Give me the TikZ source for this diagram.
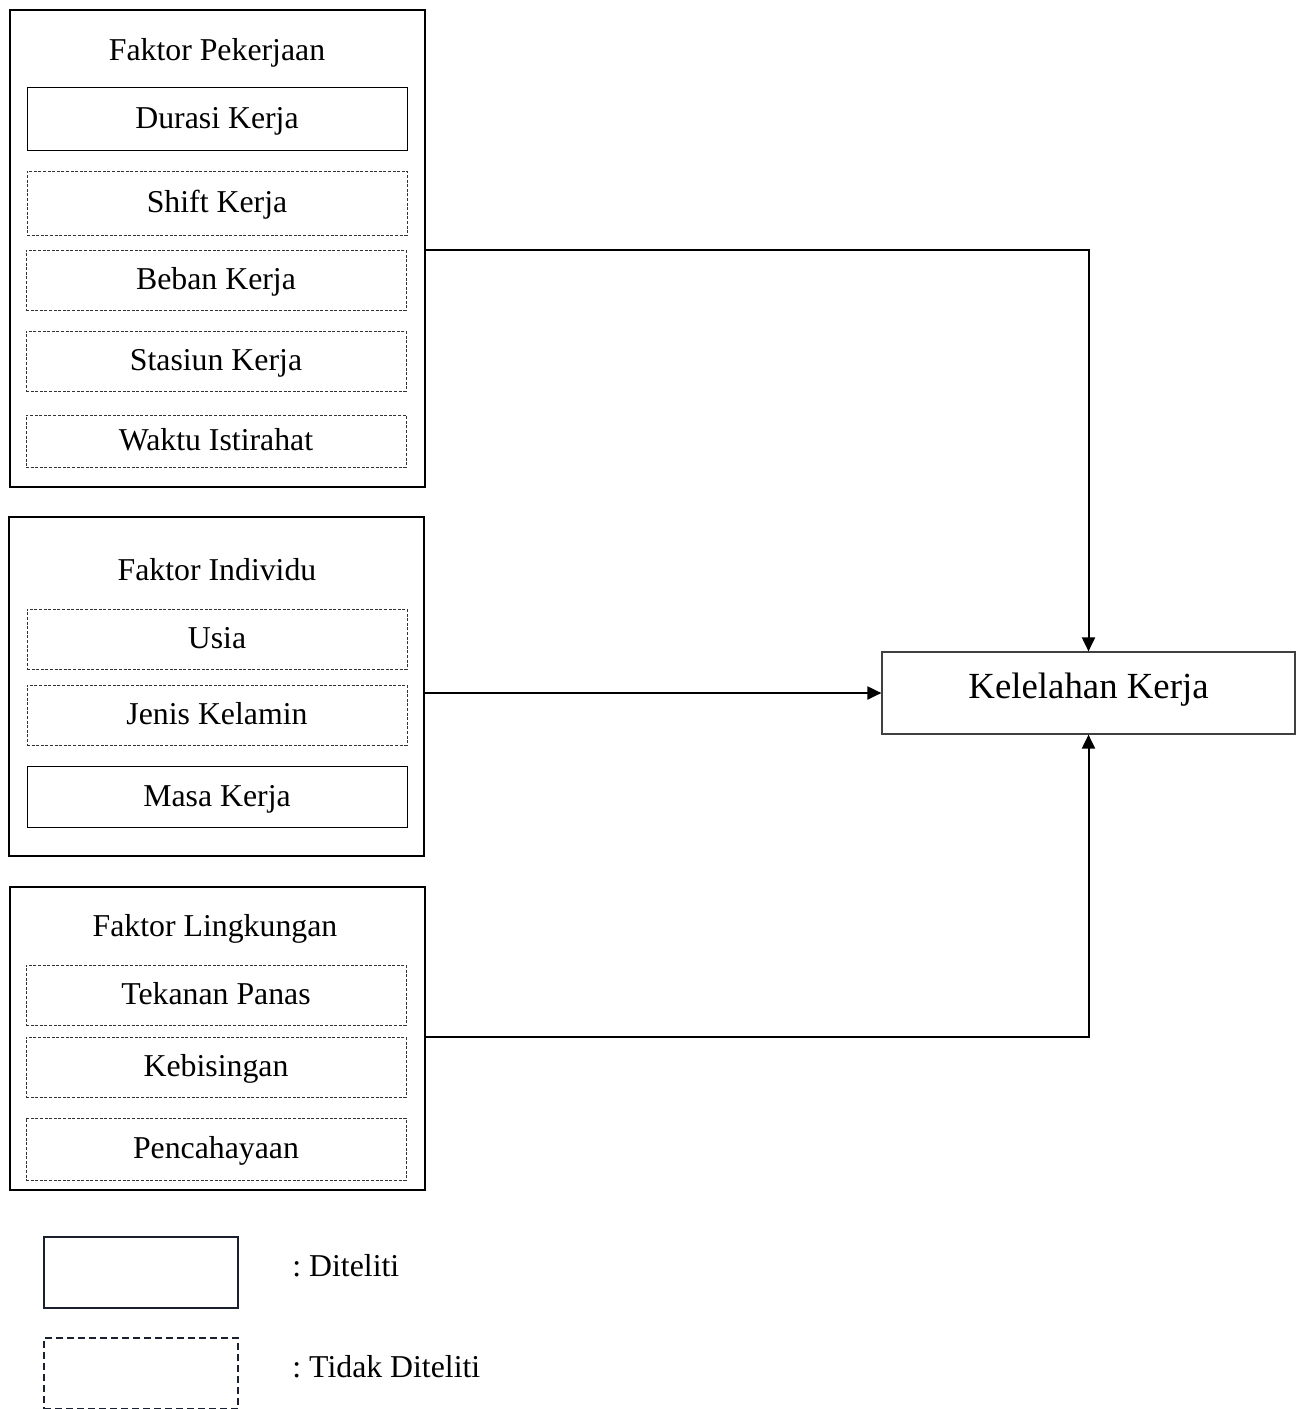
\documentclass[tikz,border=0pt]{standalone}
\usepackage{fontspec}
\setmainfont{Liberation Serif}
\usetikzlibrary{arrows.meta}
\definecolor{legc}{HTML}{1B2030}
\frenchspacing
\begin{document}
\begin{tikzpicture}[x=0.5pt,y=-0.5pt,
  every node/.style={font=\fontsize{15.9}{19}\selectfont, inner sep=0pt, text height=12.7pt, text depth=2.9pt},
  outerbox/.style={draw, line width=1.25pt, minimum width=207.5pt},
  solidbox/.style={draw, line width=0.5pt, minimum width=190pt},
  dashbox/.style={draw=black!80, line width=0.5pt, dash pattern=on 1.5pt off 0.8pt, minimum width=190pt},
  mainbox/.style={draw=black!75, line width=0.6pt, minimum width=206.5pt, minimum height=41pt, font=\fontsize{18.4}{22}\selectfont, text height=11.4pt, text depth=6.1pt},
  arr/.style={line width=1pt, -{Triangle[length=7pt,width=6.5pt]}},
  legsolid/.style={draw=legc, line width=1.2pt, minimum width=97pt, minimum height=35.5pt},
  legdash/.style={draw=legc, line width=1.2pt, dash pattern=on 3.5pt off 2pt, minimum width=97pt, minimum height=35.5pt}]
\useasboundingbox (0,0) rectangle (1300,1409);
% group 1
\node[outerbox, minimum height=238.5pt] (g1) at (217.5,248.5) {};
\node (t1) at (217,51) {Faktor Pekerjaan};
\node[solidbox, minimum height=31.5pt] (dur) at (217,118.5) {Durasi Kerja};
\node[dashbox, minimum height=32pt] (shift) at (217,203) {Shift Kerja};
\node[dashbox, minimum height=30pt] (beban) at (216,280) {Beban Kerja};
\node[dashbox, minimum height=30pt] (stas) at (216,361) {Stasiun Kerja};
\node[dashbox, minimum height=26pt] (waktu) at (216,441) {Waktu Istirahat};
% group 2
\node[outerbox, minimum height=169.5pt] (g2) at (216.5,686.5) {};
\node (t2) at (217,571) {Faktor Individu};
\node[dashbox, minimum height=30pt] (usia) at (217,639) {Usia};
\node[dashbox, minimum height=30pt] (jenis) at (217,715) {Jenis Kelamin};
\node[solidbox, minimum height=30.5pt] (masa) at (217,796.5) {Masa Kerja};
% group 3
\node[outerbox, minimum height=151.5pt] (g3) at (217.5,1038.5) {};
\node (t3) at (215,927) {Faktor Lingkungan};
\node[dashbox, minimum height=30pt] (tek) at (216,995) {Tekanan Panas};
\node[dashbox, minimum height=30pt] (keb) at (216,1067) {Kebisingan};
\node[dashbox, minimum height=31pt] (pen) at (216,1149) {Pencahayaan};
% main
\node[mainbox] (kel) at (1088.5,693) {Kelelahan Kerja};
% connectors
\draw[arr] (g1.east |- 0,250) -| (kel.north);
\draw[arr] (g2.east |- kel.west) -- (kel.west);
\draw[arr] (g3.east |- 0,1037) -| (kel.south);
% legend
\node[legsolid] (l1) at (141,1272.5) {};
\node[legdash] (l2) at (141,1373.5) {};
\node[anchor=west] (l1t) at (292,1267) {: Diteliti};
\node[anchor=west] (l2t) at (292,1367.5) {: Tidak Diteliti};
\end{tikzpicture}
\end{document}
